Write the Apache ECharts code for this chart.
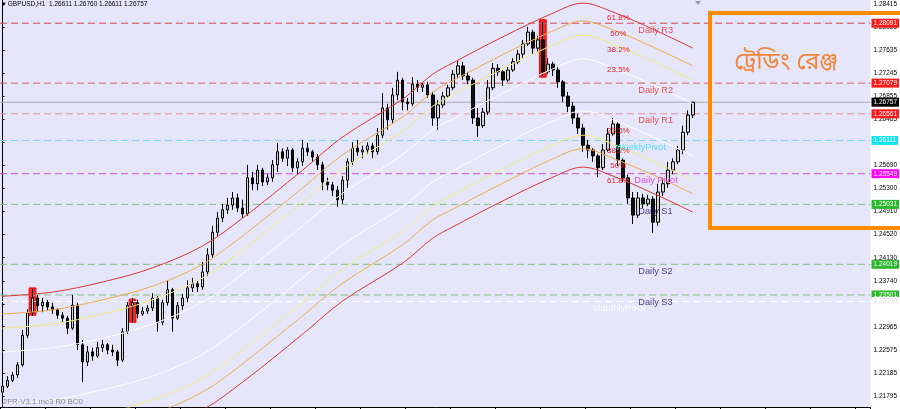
<!DOCTYPE html>
<html><head><meta charset="utf-8">
<script src="https://cdn.jsdelivr.net/npm/echarts@6/dist/echarts.min.js"></script>
<style>html,body{margin:0;padding:0;background:#fff}#c{width:900px;height:409px}</style>
</head><body><div id="c"></div>
<script>
// ---------- DATA ----------
const headerSymbol = 'GBPUSD,H1';
const headerQuote = ['1.26611', '1.26760', '1.26611', '1.26757'];
const footerText = '2FR-V3.1 mc3 R0 BC0';
const rangeTitle = 'ট্রেডিং রেঞ্জ';
const totalSlots = 174;
const categories = Array.from({length: totalSlots}, (_, i) => 'H' + (i + 1));
const yMin = 1.21609, yMax = 1.28483;
const yTicks = [1.28415,1.28025,1.27635,1.27245,1.26855,1.26465,1.26075,1.25690,1.25300,1.24910,1.24520,1.24130,1.23740,1.23350,1.22965,1.22575,1.22185,1.21795];

// [open, close, low, high]
const ohlc = [
[1.2186,1.2196,1.2180,1.2200],[1.2196,1.2206,1.2193,1.2213],[1.2206,1.2215,1.2203,1.2220],[1.2215,1.2232,1.2210,1.2237],
[1.2232,1.2282,1.2229,1.2291],[1.2282,1.2320,1.2277,1.2326],[1.2320,1.2345,1.2315,1.2360],[1.2345,1.2332,1.2321,1.2350],
[1.2332,1.2338,1.2321,1.2345],[1.2338,1.2330,1.2323,1.2342],[1.2330,1.2325,1.2318,1.2337],[1.2325,1.2316,1.2310,1.2328],
[1.2316,1.2311,1.2304,1.2321],[1.2311,1.2294,1.2284,1.2315],[1.2294,1.2333,1.2291,1.2350],[1.2333,1.2266,1.2257,1.2337],
[1.2266,1.2237,1.2203,1.2274],[1.2237,1.2254,1.2230,1.2264],[1.2254,1.2247,1.2239,1.2261],[1.2247,1.2261,1.2244,1.2271],
[1.2261,1.2266,1.2254,1.2274],[1.2266,1.2257,1.2250,1.2269],[1.2257,1.2254,1.2247,1.2266],[1.2254,1.2240,1.2230,1.2257],
[1.2240,1.2288,1.2237,1.2294],[1.2288,1.2332,1.2284,1.2338],[1.2332,1.2337,1.2304,1.2345],[1.2337,1.2318,1.2311,1.2342],
[1.2318,1.2323,1.2315,1.2330],[1.2323,1.2328,1.2318,1.2333],[1.2328,1.2345,1.2323,1.2353],[1.2345,1.2304,1.2288,1.2348],
[1.2304,1.2337,1.2299,1.2342],[1.2337,1.2359,1.2332,1.2375],[1.2359,1.2311,1.2288,1.2362],[1.2311,1.2332,1.2308,1.2338],
[1.2332,1.2345,1.2325,1.2352],[1.2345,1.2362,1.2338,1.2375],[1.2362,1.2369,1.2355,1.2379],[1.2369,1.2364,1.2355,1.2375],
[1.2364,1.2389,1.2359,1.2406],[1.2389,1.2418,1.2382,1.2429],[1.2418,1.2456,1.2413,1.2467],[1.2456,1.2480,1.2450,1.2490],
[1.2480,1.2494,1.2473,1.2504],[1.2494,1.2502,1.2487,1.2514],[1.2502,1.2514,1.2494,1.2524],[1.2514,1.2497,1.2490,1.2521],
[1.2497,1.2487,1.2480,1.2511],[1.2487,1.2548,1.2484,1.2570],[1.2548,1.2538,1.2527,1.2558],[1.2538,1.2561,1.2527,1.2570],
[1.2561,1.2541,1.2534,1.2565],[1.2541,1.2548,1.2536,1.2554],[1.2548,1.2570,1.2541,1.2578],[1.2570,1.2592,1.2558,1.2607],
[1.2592,1.2581,1.2575,1.2598],[1.2581,1.2595,1.2568,1.2600],[1.2595,1.2565,1.2558,1.2598],[1.2565,1.2575,1.2553,1.2581],
[1.2575,1.2598,1.2568,1.2612],[1.2598,1.2592,1.2585,1.2607],[1.2592,1.2583,1.2575,1.2595],[1.2583,1.2570,1.2561,1.2588],
[1.2570,1.2541,1.2527,1.2575],[1.2541,1.2536,1.2527,1.2548],[1.2536,1.2527,1.2517,1.2541],[1.2527,1.2511,1.2499,1.2534],
[1.2511,1.2544,1.2504,1.2551],[1.2544,1.2575,1.2531,1.2581],[1.2575,1.2598,1.2570,1.2608],[1.2598,1.2592,1.2585,1.2612],
[1.2592,1.2595,1.2581,1.2602],[1.2595,1.2602,1.2588,1.2608],[1.2602,1.2592,1.2581,1.2607],[1.2592,1.2620,1.2587,1.2632],
[1.2620,1.2666,1.2615,1.2691],[1.2666,1.2646,1.2629,1.2673],[1.2646,1.2688,1.2639,1.2700],[1.2688,1.2713,1.2679,1.2727],
[1.2713,1.2676,1.2662,1.2717],[1.2676,1.2673,1.2662,1.2683],[1.2673,1.2706,1.2669,1.2718],[1.2706,1.2701,1.2693,1.2713],
[1.2701,1.2705,1.2693,1.2710],[1.2705,1.2688,1.2683,1.2710],[1.2688,1.2649,1.2636,1.2693],[1.2649,1.2671,1.2629,1.2679],
[1.2671,1.2686,1.2666,1.2693],[1.2686,1.2700,1.2683,1.2705],[1.2700,1.2723,1.2696,1.2730],[1.2723,1.2737,1.2717,1.2747],
[1.2737,1.2720,1.2713,1.2744],[1.2720,1.2713,1.2706,1.2727],[1.2713,1.2649,1.2639,1.2717],[1.2649,1.2636,1.2617,1.2666],
[1.2636,1.2659,1.2632,1.2666],[1.2659,1.2700,1.2654,1.2713],[1.2700,1.2733,1.2696,1.2742],[1.2733,1.2727,1.2720,1.2740],
[1.2727,1.2713,1.2703,1.2730],[1.2713,1.2730,1.2710,1.2737],[1.2730,1.2744,1.2727,1.2750],[1.2744,1.2757,1.2740,1.2764],
[1.2757,1.2774,1.2750,1.2781],[1.2774,1.2794,1.2771,1.2803],[1.2794,1.2767,1.2757,1.2798],[1.2767,1.2781,1.2760,1.2788],
[1.2781,1.2727,1.2720,1.2811],[1.2727,1.2740,1.2723,1.2750],[1.2740,1.2730,1.2720,1.2744],[1.2730,1.2710,1.2700,1.2737],
[1.2710,1.2686,1.2676,1.2713],[1.2686,1.2669,1.2659,1.2693],[1.2669,1.2649,1.2639,1.2676],[1.2649,1.2632,1.2622,1.2656],
[1.2632,1.2603,1.2592,1.2639],[1.2603,1.2595,1.2581,1.2612],[1.2595,1.2585,1.2575,1.2598],[1.2585,1.2565,1.2549,1.2588],
[1.2565,1.2595,1.2561,1.2605],[1.2595,1.2622,1.2592,1.2632],[1.2622,1.2639,1.2619,1.2649],[1.2639,1.2578,1.2568,1.2642],
[1.2578,1.2548,1.2541,1.2581],[1.2548,1.2514,1.2504,1.2553],[1.2514,1.2485,1.2470,1.2524],[1.2485,1.2514,1.2480,1.2524],
[1.2514,1.2504,1.2497,1.2521],[1.2504,1.2512,1.2500,1.2519],[1.2512,1.2473,1.2455,1.2517],[1.2473,1.2524,1.2467,1.2538],
[1.2524,1.2538,1.2517,1.2548],[1.2538,1.2561,1.2531,1.2575],[1.2561,1.2575,1.2554,1.2581],[1.2575,1.2595,1.2571,1.2602],
[1.2595,1.2625,1.2588,1.2636],[1.2625,1.2654,1.2620,1.2662],[1.2654,1.26757,1.2649,1.26760]
];

// envelope bands, read at these bar positions
const bandIndex = [0,10,20,30,40,48,60,68,80,86,90,100,110,116,122,130,138];
const upperRed    = [1.2348,1.2355,1.2372,1.2396,1.2433,1.2480,1.2561,1.2617,1.2681,1.2723,1.2742,1.2786,1.2826,1.2843,1.2828,1.2799,1.2767];
const upperOrange = [1.2318,1.2325,1.2342,1.2365,1.2402,1.2450,1.2531,1.2587,1.2651,1.2693,1.2712,1.2756,1.2796,1.2813,1.2798,1.2769,1.2737];
const upperYellow = [1.2294,1.2301,1.2318,1.2342,1.2379,1.2426,1.2507,1.2563,1.2627,1.2669,1.2688,1.2732,1.2772,1.2789,1.2774,1.2745,1.2713];
const upperWhite  = [1.2254,1.2261,1.2277,1.2301,1.2338,1.2386,1.2467,1.2522,1.2587,1.2629,1.2647,1.2691,1.2732,1.2749,1.2733,1.2705,1.2673];
const lowerWhite  = [1.2166,1.2173,1.2190,1.2213,1.2250,1.2298,1.2379,1.2435,1.2499,1.2541,1.2560,1.2604,1.2644,1.2661,1.2646,1.2617,1.2585];
const lowerYellow = [1.2125,1.2132,1.2149,1.2173,1.2210,1.2257,1.2338,1.2394,1.2458,1.2500,1.2519,1.2563,1.2603,1.2620,1.2605,1.2576,1.2544];
const lowerOrange = [1.2102,1.2109,1.2125,1.2149,1.2186,1.2234,1.2315,1.2370,1.2435,1.2477,1.2495,1.2539,1.2580,1.2597,1.2581,1.2553,1.2521];
const lowerRed    = [1.2071,1.2078,1.2095,1.2119,1.2156,1.2203,1.2284,1.2340,1.2404,1.2446,1.2465,1.2509,1.2549,1.2566,1.2551,1.2522,1.2490];

const fibNames  = ['61.8%','50%','38.2%','23.5%','23.5%','38.2%','50%','61.8%'];
const fibPrices = [1.2818,1.2791,1.2764,1.2731,1.2627,1.2593,1.2569,1.2543];

const pivotNames  = ['Daily R3','Daily R2','Daily R1','WeeklyPivot','Daily Pivot','Daily S1','Daily S2','Daily S3','MonthlyPivot'];
const pivotValues = [1.28091,1.27079,1.26561,1.26111,1.25549,1.25031,1.24019,1.23501,1.23390];
const lastPrice = 1.26757;

const highlightBar    = [6, 26, 108];
const highlightTop    = [1.2362, 1.2343, 1.2815];
const highlightBottom = [1.2316, 1.2304, 1.2718];

// ---------- STYLES ----------
const pivotStyle = [
  {line:'#d44a52', tag:'#ff1a1a', tagText:'#ffffff', text:'#e02828', at:127.1},
  {line:'#d45a66', tag:'#ff1a1a', tagText:'#ffffff', text:'#e02828', at:127.1},
  {line:'#e88c9c', tag:'#ff1a1a', tagText:'#ffffff', text:'#e02828', at:127.1},
  {line:'#7ad6ee', tag:'#12e4f0', tagText:'#ffffff', text:'#2ee0f0', at:122.5},
  {line:'#d050d0', tag:'#ff00ff', tagText:'#ffffff', text:'#e028e0', at:126.3},
  {line:'#80c080', tag:'#2cb82c', tagText:'#ffffff', text:'#14145e', at:127.1},
  {line:'#80c080', tag:'#2cb82c', tagText:'#ffffff', text:'#14145e', at:127.1},
  {line:'#80c080', tag:'#2cb82c', tagText:'#ffffff', text:'#14145e', at:127.1},
  {line:'#ffffff', tag:'#ffffff', tagText:'#dcdcdc', text:'#ffffff', at:118.0}
];
const fibAt = 123.1;
const bandColors = ['#dd3535','#f0aa4c','#f3ea80','#ffffff','#ffffff','#f3ea80','#f0aa4c','#dd3535'];
const bands = [upperRed, upperOrange, upperYellow, upperWhite, lowerWhite, lowerYellow, lowerOrange, lowerRed];

const chart = echarts.init(document.getElementById('c'), null, {renderer:'canvas', width:900, height:409});

const tagLabel = (v, bg, fg) => ({show: true, position: 'end', distance: 1, formatter: v.toFixed(5),
  backgroundColor: bg, color: fg, fontSize: 6.5, fontFamily: 'Liberation Sans', padding: [1, 2, 0, 2], lineHeight: 8});

const series = [
  {
    type: 'custom', xAxisIndex: 0, z: 1, silent: true,
    data: highlightBar.map((b, k) => [b, highlightTop[k], highlightBottom[k]]),
    renderItem: (params, api) => {
      const p1 = api.coord([api.value(0), api.value(1)]);
      const p2 = api.coord([api.value(0), api.value(2)]);
      const w = api.size([1, 0])[0] * 1.35;
      return {type: 'rect', shape: {x: p1[0] - w / 2, y: p1[1], width: w, height: p2[1] - p1[1]},
        style: {fill: '#ec2b2b', stroke: '#ff0000', lineWidth: 1}};
    }
  },
  {
    type: 'candlestick', xAxisIndex: 0, z: 2, silent: true, barWidth: 3,
    data: ohlc,
    itemStyle: {color: '#d4d4d4', color0: '#111111', borderColor: '#000000', borderColor0: '#000000', borderWidth: 1}
  }
];
pivotValues.forEach((v, k) => series.push({
  type: 'line', xAxisIndex: 1, z: 2, silent: true, symbol: 'none',
  lineStyle: {color: pivotStyle[k].line, type: [7, 4], width: 1},
  data: [[-0.5, v], [totalSlots - 0.5, v]],
  endLabel: tagLabel(v, pivotStyle[k].tag, pivotStyle[k].tagText)
}));
series.push({
  type: 'line', xAxisIndex: 1, z: 2, silent: true, symbol: 'none',
  lineStyle: {color: '#a9a9b9', type: 'solid', width: 1},
  data: [[-0.5, lastPrice], [totalSlots - 0.5, lastPrice]],
  endLabel: tagLabel(lastPrice, '#000000', '#ffffff')
});
bands.forEach((arr, k) => series.push({
  type: 'line', xAxisIndex: 1, z: 3, silent: true, symbol: 'none', smooth: 0.35,
  lineStyle: {color: bandColors[k], width: 1},
  data: bandIndex.map((b, j) => [b, arr[j]])
}));
series.push({
  type: 'scatter', xAxisIndex: 1, z: 4, silent: true, symbolSize: 0,
  itemStyle: {color: 'transparent'},
  data: fibNames.map((n, k) => ({value: [fibAt, fibPrices[k]], name: n})),
  label: {show: true, position: 'inside', formatter: p => p.name, color: '#e02626', fontSize: 8,
    fontFamily: 'Liberation Sans', textBorderWidth: 0, opacity: 1}
});
series.push({
  type: 'scatter', xAxisIndex: 1, z: 4, silent: true, symbolSize: 0,
  itemStyle: {color: 'transparent'},
  data: pivotNames.map((n, k) => ({value: [pivotStyle[k].at, pivotValues[k]], name: n,
    label: {color: pivotStyle[k].text}})),
  label: {show: true, position: 'right', distance: 0, offset: [0, 7], formatter: p => p.name, fontSize: 9.2,
    fontFamily: 'Liberation Sans', textBorderWidth: 0}
});

const option = {
  animation: false,
  backgroundColor: '#ffffff',
  grid: {left: 0, right: 26, top: 0, bottom: 2, show: true, backgroundColor: '#E6E6FA', borderWidth: 0},
  xAxis: [
    {type: 'category', data: categories, boundaryGap: true,
     axisLine: {show: true, lineStyle: {color: '#000', width: 1}},
     axisTick: {show: true, interval: 8, length: 3, lineStyle: {color: '#000'}},
     axisLabel: {show: false}, splitLine: {show: false}},
    {type: 'value', min: -0.5, max: totalSlots - 0.5, show: false}
  ],
  yAxis: {
    type: 'value', position: 'right', min: yMin, max: yMax,
    axisLine: {show: true, lineStyle: {color: '#000'}},
    axisTick: {show: true, length: 2, customValues: yTicks, lineStyle: {color: '#000'}},
    axisLabel: {customValues: yTicks, formatter: v => v.toFixed(5), fontSize: 6.5, color: '#000', margin: 3, fontFamily: 'Liberation Sans'},
    splitLine: {show: false}
  },
  series: series,
  graphic: [
    {type: 'text', left: 2, top: 1, z: 10, silent: true,
     style: {text: '▾ ' + headerSymbol + '  ' + headerQuote.join(' '), fontSize: 6.5, fontFamily: 'Liberation Sans', fill: '#000'}},
    {type: 'text', left: 3, top: 398, z: 10, silent: true,
     style: {text: footerText, fontSize: 7.8, fontFamily: 'Liberation Sans', fill: '#8a8a8a'}},
    {type: 'polygon', z: 10, silent: true, shape: {points: [[695, 1], [701, 1], [698, 5]]}, style: {fill: '#9a9aa4'}},
    {type: 'rect', z: 20, silent: true, shape: {x: 710, y: 13, width: 200, height: 215},
     style: {fill: 'none', stroke: '#ff8c00', lineWidth: 4}},
    {type: 'text', z: 20, silent: true, x: 786, y: 64,
     style: {text: rangeTitle, fontSize: 24, fontFamily: "'Noto Sans Bengali','Lohit Bengali','Noto Sans',sans-serif",
       fill: '#f0863a', align: 'center', verticalAlign: 'middle'}}
  ]
};
chart.setOption(option);
</script></body></html>
